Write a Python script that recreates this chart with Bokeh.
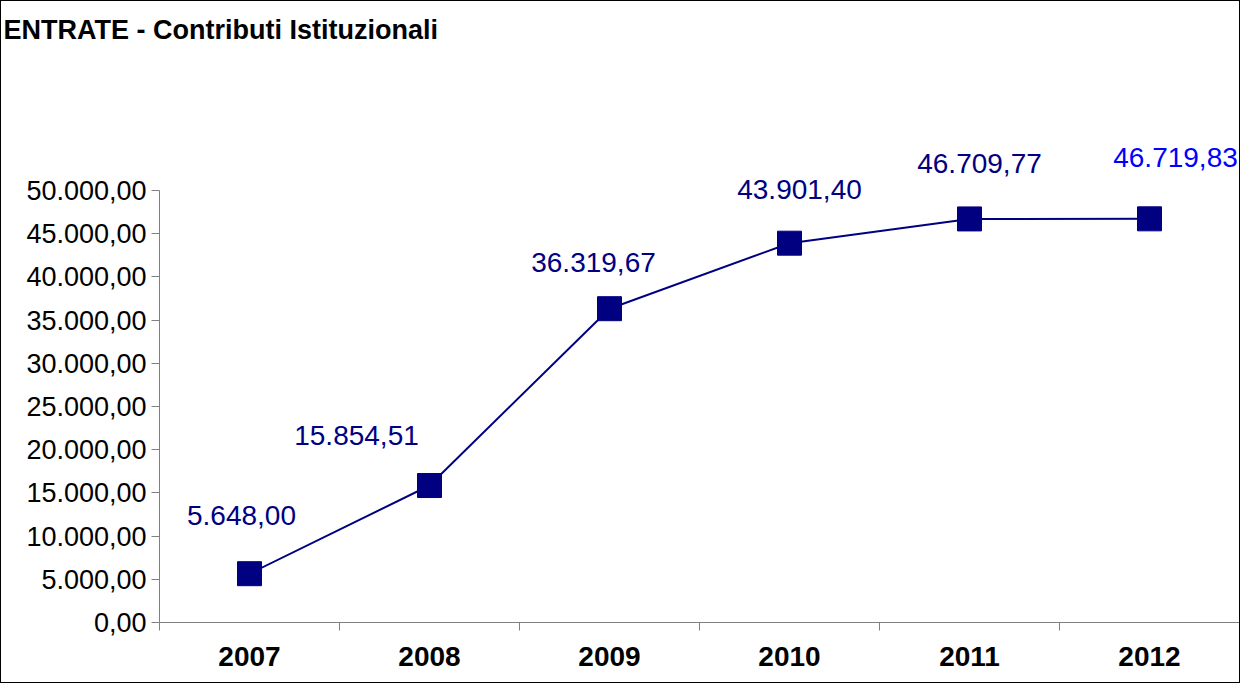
from bokeh.plotting import figure
from bokeh.models import ColumnDataSource, FixedTicker, Range1d
from bokeh.core.properties import value
from bokeh.embed import file_html
from bokeh.resources import INLINE

# ---- data ----
years = ["2007", "2008", "2009", "2010", "2011", "2012"]
values = [5648.00, 15854.51, 36319.67, 43901.40, 46709.77, 46719.83]
y_ticks = [0, 5000, 10000, 15000, 20000, 25000, 30000, 35000, 40000, 45000, 50000]
y_tick_labels = ["0,00", "5.000,00", "10.000,00", "15.000,00", "20.000,00", "25.000,00",
                 "30.000,00", "35.000,00", "40.000,00", "45.000,00", "50.000,00"]

def it_fmt(v):
    s = f"{v:,.2f}"
    return s.replace(",", "#").replace(".", ",").replace("#", ".")

labels = [it_fmt(v) for v in values]

# ---- layout (label placement, pixels) ----
label_dx = [-8, -73, -16, 10, 10, 26]
label_dy = [-58, -50, -46, -54, -55, -61]
label_colors = ["#000080", "#000080", "#000080", "#000080", "#000080", "#0000FF"]

xs = [i + 0.5 for i in range(len(years))]
src = ColumnDataSource(dict(x=xs, y=values, label=labels, dx=label_dx, dy=label_dy,
                            color=label_colors))

FONT = "Liberation Sans"
px_per_unit = 432 / 50000.0
frame_h = 629 - 62
y_end = frame_h / px_per_unit

p = figure(width=1240, height=683, output_backend="svg", toolbar_location=None,
           x_range=Range1d(0, 6.0), y_range=Range1d(0, y_end),
           min_border_left=158, min_border_right=2, min_border_top=54, min_border_bottom=62,
           title="ENTRATE - Contributi Istituzionali")
p.styles = {"border": "1px solid black"}
p.title.text_font = FONT
p.title.text_font_size = "27px"
p.title.text_font_style = "bold"
p.title.text_color = "black"
p.title.align = "left"
p.title.offset = -156
p.title.standoff = 22

p.grid.visible = False
p.outline_line_color = None
p.background_fill_color = "white"
p.border_fill_color = "white"

p.line("x", "y", source=src, line_color="#000080", line_width=2)
p.scatter("x", "y", source=src, marker="square", size=24, fill_color="#000080",
          line_color="#000080")
p.text("x", "y", text="label", source=src, x_offset="dx", y_offset="dy",
       text_color="color", text_font=value(FONT), text_font_size="28px",
       text_align="center", text_baseline="middle")

# y axis
p.yaxis.ticker = FixedTicker(ticks=y_ticks)
p.yaxis.major_label_overrides = {t: l for t, l in zip(y_ticks, y_tick_labels)}
p.yaxis.bounds = (0, 50000)
p.yaxis.axis_line_color = "#808080"
p.yaxis.major_tick_line_color = "#808080"
p.yaxis.major_tick_out = 8
p.yaxis.major_tick_in = 0
p.yaxis.minor_tick_line_color = None
p.yaxis.major_label_text_font = FONT
p.yaxis.major_label_text_font_size = "27px"
p.yaxis.major_label_text_color = "black"
p.yaxis.major_label_standoff = 5

# x axis
p.xaxis.ticker = FixedTicker(ticks=xs, minor_ticks=list(range(len(years) + 1)))
p.xaxis.major_label_overrides = {x: y for x, y in zip(xs, years)}
p.xaxis.axis_line_color = "#808080"
p.xaxis.major_tick_line_color = None
p.xaxis.minor_tick_line_color = "#808080"
p.xaxis.minor_tick_out = 8
p.xaxis.minor_tick_in = 0
p.xaxis.major_label_text_font = FONT
p.xaxis.major_label_text_font_size = "28px"
p.xaxis.major_label_text_font_style = "bold"
p.xaxis.major_label_text_color = "black"
p.xaxis.major_label_standoff = 16

open("out.html", "w").write(file_html(p, INLINE))
